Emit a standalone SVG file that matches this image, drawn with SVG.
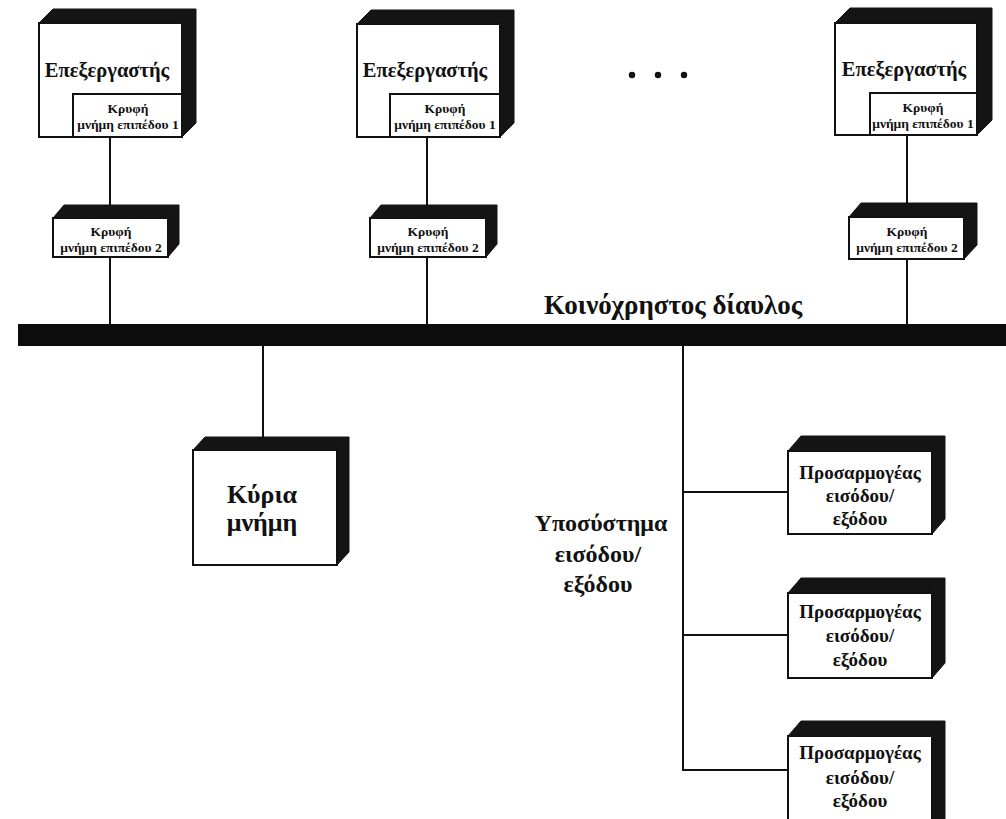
<svg xmlns="http://www.w3.org/2000/svg" width="1006" height="819" viewBox="0 0 1006 819">
  <style>
    .face { fill: #ffffff; stroke: #111111; stroke-width: 2; }
    .shade { fill: #141414; stroke: #141414; stroke-width: 1; stroke-linejoin: round; }
    .wire { stroke: #111111; stroke-width: 2; fill: none; }
    text { font-family: "Liberation Serif", "DejaVu Serif", serif; font-weight: bold; fill: #111111; text-anchor: middle; }
    .cpu { font-size: 20.5px; }
    .small { font-size: 13.5px; }
    .mem { font-size: 26px; }
    .io { font-size: 19px; }
    .bus { font-size: 27px; }
    .sub { font-size: 24px; }
  </style>

  <rect width="1006" height="819" fill="#ffffff"/>

  <!-- connectors -->
  <g id="connectors">
    <line class="wire" x1="110" y1="137" x2="110" y2="206"/>
    <line class="wire" x1="110" y1="257" x2="110" y2="325"/>
    <line class="wire" x1="427" y1="137" x2="427" y2="206"/>
    <line class="wire" x1="427" y1="257" x2="427" y2="325"/>
    <line class="wire" x1="907" y1="135" x2="907" y2="205"/>
    <line class="wire" x1="907" y1="258" x2="907" y2="325"/>
    <line class="wire" x1="263" y1="345" x2="263" y2="438"/>
    <line class="wire" x1="683" y1="345" x2="683" y2="770"/>
    <line class="wire" x1="682" y1="492" x2="789" y2="492"/>
    <line class="wire" x1="682" y1="635" x2="789" y2="635"/>
    <line class="wire" x1="682" y1="770" x2="789" y2="770"/>
  </g>

  <!-- shared bus -->
  <g id="bus">
    <rect x="18" y="324" width="988" height="22" fill="#0c0c0c"/>
    <text class="bus" x="673" y="314">Κοινόχρηστος δίαυλος</text>
  </g>

  <!-- ellipsis between processors -->
  <g id="ellipsis" fill="#111111">
    <circle cx="632" cy="75" r="3.2"/>
    <circle cx="658" cy="75" r="3.2"/>
    <circle cx="684" cy="75" r="3.2"/>
  </g>

  <!-- processor 1 -->
  <g id="cpu1">
    <polygon class="shade" points="39,23 53,9 196,9 182,23"/>
    <polygon class="shade" points="182,23 196,9 196,123 182,137"/>
    <rect class="face" x="39" y="23" width="143" height="114"/>
    <text class="cpu" x="107" y="77">Επεξεργαστής</text>
    <rect class="face" x="73" y="94" width="109" height="43"/>
    <text class="small" x="128" y="113">Κρυφή</text>
    <text class="small" x="128" y="129">μνήμη επιπέδου 1</text>
  </g>

  <!-- processor 2 -->
  <g id="cpu2">
    <polygon class="shade" points="357,24 371,10 514,10 500,24"/>
    <polygon class="shade" points="500,24 514,10 514,123 500,137"/>
    <rect class="face" x="357" y="24" width="143" height="113"/>
    <text class="cpu" x="425" y="77">Επεξεργαστής</text>
    <rect class="face" x="390" y="94" width="110" height="43"/>
    <text class="small" x="445" y="113">Κρυφή</text>
    <text class="small" x="445" y="129">μνήμη επιπέδου 1</text>
  </g>

  <!-- processor n -->
  <g id="cpu3">
    <polygon class="shade" points="835,23 850,8 992,8 977,23"/>
    <polygon class="shade" points="977,23 992,8 992,120 977,135"/>
    <rect class="face" x="835" y="23" width="142" height="112"/>
    <text class="cpu" x="904" y="76">Επεξεργαστής</text>
    <rect class="face" x="870" y="93" width="107" height="42"/>
    <text class="small" x="923" y="112">Κρυφή</text>
    <text class="small" x="923" y="128">μνήμη επιπέδου 1</text>
  </g>

  <!-- level-2 caches -->
  <g id="l2cache1">
    <polygon class="shade" points="53,218 64,205 179,205 168,218"/>
    <polygon class="shade" points="168,218 179,205 179,244 168,257"/>
    <rect class="face" x="53" y="218" width="115" height="39"/>
    <text class="small" x="111" y="236">Κρυφή</text>
    <text class="small" x="111" y="252">μνήμη επιπέδου 2</text>
  </g>
  <g id="l2cache2">
    <polygon class="shade" points="370,218 381,205 497,205 486,218"/>
    <polygon class="shade" points="486,218 497,205 497,244 486,257"/>
    <rect class="face" x="370" y="218" width="116" height="39"/>
    <text class="small" x="428" y="236">Κρυφή</text>
    <text class="small" x="428" y="252">μνήμη επιπέδου 2</text>
  </g>
  <g id="l2cache3">
    <polygon class="shade" points="849,217 861,203 977,203 964,217"/>
    <polygon class="shade" points="964,217 977,203 977,245 964,259"/>
    <rect class="face" x="849" y="217" width="115" height="42"/>
    <text class="small" x="907" y="236">Κρυφή</text>
    <text class="small" x="907" y="252">μνήμη επιπέδου 2</text>
  </g>

  <!-- main memory -->
  <g id="main-memory">
    <polygon class="shade" points="193,450 205,437 349,437 337,450"/>
    <polygon class="shade" points="337,450 349,437 349,552 337,565"/>
    <rect class="face" x="193" y="450" width="144" height="115"/>
    <text class="mem" x="262" y="503">Κύρια</text>
    <text class="mem" x="262" y="531">μνήμη</text>
  </g>

  <!-- I/O subsystem label -->
  <g id="io-subsystem">
    <text class="sub" x="601" y="531">Υποσύστημα</text>
    <text class="sub" x="598" y="562">εισόδου/</text>
    <text class="sub" x="598" y="592">εξόδου</text>
  </g>

  <!-- I/O adapters -->
  <g id="io-adapter1">
    <polygon class="shade" points="788,451 801,436 945,436 932,451"/>
    <polygon class="shade" points="932,451 945,436 945,519 932,534"/>
    <rect class="face" x="788" y="451" width="144" height="83"/>
    <text class="io" x="860" y="479">Προσαρμογέας</text>
    <text class="io" x="860" y="502">εισόδου/</text>
    <text class="io" x="860" y="525">εξόδου</text>
  </g>
  <g id="io-adapter2">
    <polygon class="shade" points="788,593 801,578 945,578 932,593"/>
    <polygon class="shade" points="932,593 945,578 945,663 932,678"/>
    <rect class="face" x="788" y="593" width="144" height="85"/>
    <text class="io" x="860" y="618">Προσαρμογέας</text>
    <text class="io" x="860" y="642">εισόδου/</text>
    <text class="io" x="860" y="666">εξόδου</text>
  </g>
  <g id="io-adapter3">
    <polygon class="shade" points="788,736 801,721 945,721 932,736"/>
    <polygon class="shade" points="932,736 945,721 945,819 932,819"/>
    <rect class="face" x="788" y="736" width="144" height="90"/>
    <text class="io" x="860" y="759">Προσαρμογέας</text>
    <text class="io" x="860" y="784">εισόδου/</text>
    <text class="io" x="860" y="807">εξόδου</text>
  </g>
</svg>
